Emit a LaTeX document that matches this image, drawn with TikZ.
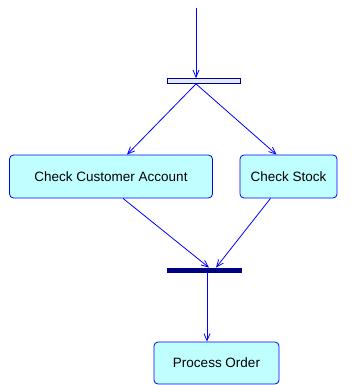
\documentclass[tikz,border=0pt]{standalone}
\usepackage{fontspec}
\setmainfont{Liberation Sans}
\usetikzlibrary{arrows.meta, positioning, calc}
\definecolor{flowblue}{RGB}{0, 0, 255}
\definecolor{barnavy}{RGB}{0, 0, 128}
\definecolor{actcyan}{RGB}{192, 255, 255}
\definecolor{forkfill}{RGB}{225, 235, 255}

\begin{document}
\begin{tikzpicture}[x=1pt, y=-1pt, >={Straight Barb[length=7pt,width=6pt]}, line width=0.8pt,
    font=\fontsize{13.5}{16}\selectfont,
    action/.style={draw=flowblue, fill=actcyan, rounded corners=4pt, minimum height=43pt, inner sep=0pt},
    bar/.style={draw=barnavy, inner sep=0pt, minimum height=5pt},
    flow/.style={->, draw=flowblue}]
      \useasboundingbox (0,0) rectangle (353,385);
      \coordinate (init) at (196,8);
      \node[bar, fill=forkfill, minimum width=73pt] (fork) at (204,81) {};
      \node[action, minimum width=203pt] (acct) at (111,176.5) {Check Customer Account};
      \node[action, minimum width=97pt] (stock) at (288.5,176.5) {Check Stock};
      \node[bar, fill=barnavy, minimum width=74pt, minimum height=4pt] (join) at (204,270) {};
      \node[action, minimum width=125pt, minimum height=42pt] (order) at (216.5,363) {Process Order};
      \draw[flow] (init) -- (init |- fork.north);
      \draw[flow] ([xshift=-8pt]fork.south) -- ([xshift=16pt]acct.north);
      \draw[flow] ([xshift=-8pt]fork.south) -- ([xshift=-12pt]stock.north);
      \draw[flow] ([xshift=12pt]acct.south) -- ([xshift=5pt]join.north);
      \draw[flow] ([xshift=-18pt]stock.south) -- ([xshift=12pt]join.north);
      \draw[flow] ([xshift=3pt]join.south) -- ([xshift=3pt]join.south |- order.north);
    \end{tikzpicture}
\end{document}
